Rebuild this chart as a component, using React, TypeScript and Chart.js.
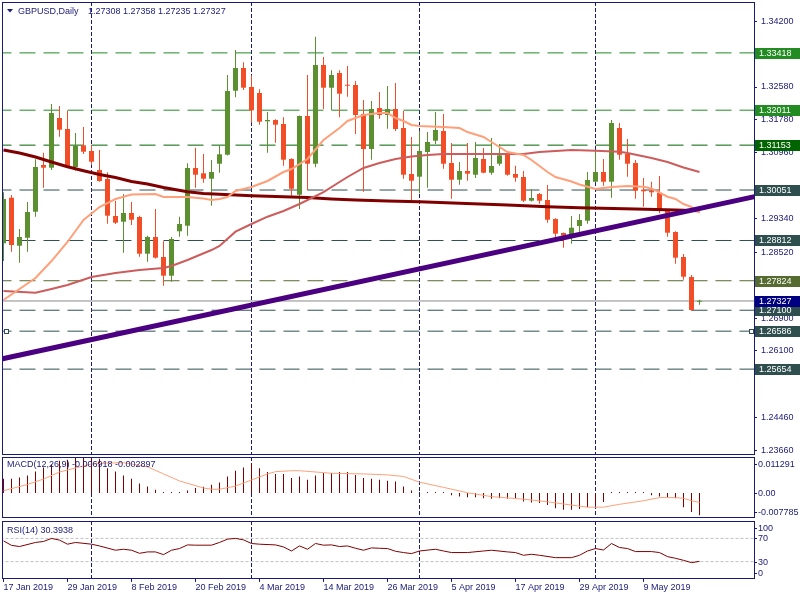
import React, { useEffect, useRef } from "react";
import { Chart, registerables } from "chart.js";

Chart.register(...registerables);

const FONT_FAMILY = "'Liberation Sans', Arial, sans-serif";
const NAVY = "#1a1a78";
const UP = "#5b8f2f";
const DOWN = "#f24d26";

const symbolTitle = "GBPUSD,Daily";
const ohlcTitle = "1.27308 1.27358 1.27235 1.27327";

const xTickIdx = [0, 8, 16, 24, 32, 40, 48, 56, 64, 72, 80];
const xTickLabels = [
  "17 Jan 2019", "29 Jan 2019", "8 Feb 2019", "20 Feb 2019", "4 Mar 2019", "14 Mar 2019",
  "26 Mar 2019", "5 Apr 2019", "17 Apr 2019", "29 Apr 2019", "9 May 2019",
];
const separatorIdx = [11, 31, 52, 74];

const opens = [
  1.28743, 1.29862, 1.28684, 1.2888, 1.29519, 1.30665, 1.30599, 1.31819, 1.31549, 1.30616,
  1.31149, 1.31009, 1.30543, 1.30322, 1.29413, 1.29273, 1.29487, 1.29389, 1.28488, 1.28898,
  1.28407, 1.27948, 1.29038, 1.29175, 1.30592, 1.30462, 1.30329, 1.30697, 1.30918, 1.32489,
  1.33047, 1.3258, 1.32433, 1.31738, 1.3177, 1.31672, 1.30813, 1.29936, 1.31868, 1.30697,
  1.3312, 1.32563, 1.32924, 1.32629, 1.32629, 1.31917, 1.31058, 1.32065, 1.31893, 1.3204,
  1.31574, 1.30444, 1.30378, 1.30984, 1.31262, 1.315, 1.30714, 1.30304, 1.30518, 1.30427,
  1.30813, 1.30476, 1.30697, 1.30935, 1.30444, 1.30371, 1.29789, 1.29953, 1.29806, 1.2934,
  1.28996, 1.2893, 1.29168, 1.29298, 1.30255, 1.30493, 1.30255, 1.31574, 1.30935, 1.30714,
  1.30059, 1.30034, 1.29985, 1.29561, 1.2902, 1.28407, 1.27916, 1.27308,
];
const highs = [
  1.29995, 1.29929, 1.29094, 1.29757, 1.30805, 1.30967, 1.32163, 1.32114, 1.31998, 1.31451,
  1.31598, 1.31156, 1.31034, 1.30486, 1.29781, 1.29953, 1.29757, 1.2942, 1.2893, 1.29585,
  1.28792, 1.289, 1.29396, 1.30707, 1.3109, 1.30935, 1.30788, 1.31139, 1.32875, 1.33489,
  1.33187, 1.32867, 1.32524, 1.31966, 1.31787, 1.31836, 1.3083, 1.3188, 1.32875, 1.33815,
  1.33317, 1.3299, 1.3299, 1.33096, 1.32727, 1.32261, 1.32236, 1.32457, 1.32605, 1.32678,
  1.31991, 1.31353, 1.315, 1.31475, 1.31966, 1.31917, 1.31205, 1.30739, 1.31205, 1.3123,
  1.31083, 1.31328, 1.31181, 1.3098, 1.30648, 1.30518, 1.30076, 1.29978, 1.30174, 1.2936,
  1.2901, 1.29413, 1.29462, 1.30493, 1.31009, 1.30813, 1.3177, 1.31696, 1.31304, 1.30788,
  1.30346, 1.30255, 1.30395, 1.2958, 1.2904, 1.2848, 1.27965, 1.27358,
];
const lows = [
  1.28308, 1.28537, 1.28267, 1.28537, 1.29396, 1.30108, 1.30543, 1.3136, 1.306, 1.30525,
  1.30935, 1.30665, 1.30255, 1.29224, 1.29217, 1.28512, 1.29192, 1.28414, 1.28291, 1.2837,
  1.27702, 1.278, 1.28905, 1.2893, 1.30108, 1.30231, 1.29666, 1.30476, 1.309, 1.32327,
  1.32507, 1.31704, 1.31655, 1.30967, 1.31213, 1.30648, 1.29912, 1.29585, 1.30044, 1.30609,
  1.3204, 1.32016, 1.31836, 1.32342, 1.31426, 1.3001, 1.30795, 1.31802, 1.31556, 1.315,
  1.30329, 1.29806, 1.29971, 1.30108, 1.31181, 1.30574, 1.29838, 1.30182, 1.3028, 1.30346,
  1.3046, 1.30427, 1.30648, 1.30403, 1.30255, 1.29757, 1.2977, 1.29715, 1.29249, 1.28856,
  1.28635, 1.28733, 1.29028, 1.29224, 1.3024, 1.30157, 1.29862, 1.30795, 1.30378, 1.29838,
  1.29642, 1.29887, 1.2948, 1.28905, 1.28242, 1.27849, 1.27088, 1.27235,
];
const closes = [
  1.29831, 1.28701, 1.28898, 1.29511, 1.30616, 1.30599, 1.31942, 1.31532, 1.3063, 1.31139,
  1.30992, 1.30746, 1.30272, 1.29421, 1.29249, 1.29487, 1.29322, 1.28488, 1.28898, 1.2839,
  1.27948, 1.28849, 1.29217, 1.30592, 1.30427, 1.30329, 1.30493, 1.30928, 1.32482, 1.33047,
  1.32563, 1.32008, 1.31728, 1.3177, 1.31655, 1.30795, 1.30083, 1.31868, 1.30697, 1.3312,
  1.32563, 1.32875, 1.32416, 1.32612, 1.31893, 1.31058, 1.3204, 1.31893, 1.3204, 1.31549,
  1.30427, 1.3028, 1.31009, 1.3123, 1.31525, 1.30697, 1.30304, 1.30518, 1.30452, 1.30837,
  1.30476, 1.30641, 1.30903, 1.30427, 1.30354, 1.29789, 1.29855, 1.29789, 1.29322, 1.28979,
  1.2893, 1.29126, 1.29315, 1.30297, 1.30493, 1.30255, 1.31696, 1.30918, 1.30697, 1.30034,
  1.3002, 1.29995, 1.29543, 1.29003, 1.2839, 1.27923, 1.27106, 1.27327,
];

// moving averages: [bar index, price]
const maFastPts = [
  [0, 1.27351], [4, 1.27891], [6, 1.28308], [8, 1.28775], [10, 1.29315], [12, 1.29634], [14, 1.29831],
  [16, 1.29941], [19, 1.29953], [20, 1.2988], [23, 1.2988], [25, 1.29843], [26, 1.29806], [27, 1.29831],
  [28, 1.2988], [29, 1.30027], [31, 1.30125], [33, 1.30273], [35, 1.30493], [36, 1.30567], [38, 1.30813],
  [40, 1.31279], [42, 1.31574], [43, 1.31746], [45, 1.31893], [47, 1.31942], [48, 1.31942], [49, 1.31819],
  [50, 1.31746], [51, 1.31647], [52, 1.31623], [55, 1.31598], [57, 1.31574], [58, 1.31475], [60, 1.31353],
  [61, 1.3123], [63, 1.30984], [65, 1.30911], [66, 1.30788], [68, 1.30493], [69, 1.30371], [71, 1.3026],
  [72, 1.30187], [74, 1.30076], [75, 1.30101], [76, 1.30125], [78, 1.3015], [80, 1.30133], [81, 1.30089],
  [83, 1.29887], [84, 1.29831], [85, 1.29708], [86, 1.29634], [87, 1.29494],
];
const maMidPts = [
  [0, 1.27572], [4, 1.2753], [6, 1.27621], [8, 1.27719], [11, 1.27916], [14, 1.28014], [17, 1.28088],
  [20, 1.28137], [21, 1.28186], [23, 1.28333], [26, 1.28578], [27, 1.28677], [29, 1.29028], [31, 1.29217],
  [33, 1.29396], [35, 1.29536], [37, 1.29708], [40, 1.30002], [42, 1.30248], [43, 1.30371], [45, 1.30592],
  [47, 1.30715], [49, 1.30813], [51, 1.30874], [53, 1.30911], [55, 1.30935], [61, 1.30935], [65, 1.30935],
  [67, 1.30984], [71, 1.31033], [74, 1.31016], [77, 1.30992], [78, 1.3096], [81, 1.30837], [83, 1.30739],
  [85, 1.30604], [87, 1.30493],
];
const maSlowPts = [
  [0, 1.31034], [2, 1.3096], [4, 1.30862], [6, 1.30739], [8, 1.30623], [10, 1.30525], [12, 1.30432],
  [14, 1.30358], [16, 1.3026], [18, 1.30199], [20, 1.30113], [23, 1.3001], [25, 1.29966], [29, 1.29929],
  [31, 1.29912], [35, 1.29887], [38, 1.29867], [41, 1.29831], [44, 1.29806], [48, 1.29782], [52, 1.29764],
  [57, 1.29725], [63, 1.29683], [68, 1.29639], [72, 1.29617], [79, 1.29585], [84, 1.2956], [87, 1.29543],
];
const trendPts = [[-1, 1.25871], [94, 1.29895]];

const levelPrices = [1.33418, 1.32011, 1.31153, 1.30051, 1.28812, 1.27824, 1.271, 1.26586, 1.25654];
const levelColors = ["#228B22", "#228B22", "#006400", "#2F4F4F", "#2F4F4F", "#556B2F", "#2F4F4F", "#2F4F4F", "#2F4F4F"];
const bidPrice = 1.27327;
const selectedLevel = 1.26586;

const priceTicks = [1.342, 1.3258, 1.3178, 1.3096, 1.2934, 1.2852, 1.2772, 1.269, 1.261, 1.2446, 1.2366];
const priceMin = 1.23546;
const priceMax = 1.34667;

const macdMain = [
  0.00447, 0.00447, 0.00488, 0.0055, 0.00676, 0.008, 0.00885, 0.0101, 0.0104, 0.01094,
  0.01129, 0.0112, 0.01073, 0.0078, 0.00676, 0.0055, 0.00447, 0.003, 0.00206, 0.00103,
  0.0001, 0.0003, 0.0003, 0.0008, 0.00156, 0.00197, 0.0026, 0.0033, 0.0052, 0.007,
  0.008, 0.0094, 0.0078, 0.0066, 0.006, 0.006, 0.0047, 0.0052, 0.0042, 0.0055,
  0.0063, 0.0063, 0.0066, 0.0066, 0.0057, 0.0047, 0.0045, 0.0042, 0.0039, 0.0036,
  0.0021, 0.0008, 0.0002, 0.0002, 0.0002, 0.0001, -0.0007, -0.0011, -0.0013, -0.0013,
  -0.0016, -0.0018, -0.0016, -0.0018, -0.0018, -0.0026, -0.0029, -0.0031, -0.0037, -0.0047,
  -0.0052, -0.0052, -0.005, -0.0044, -0.0037, -0.0028, 0.0002, 0.0002, 0.0002, 0.0001,
  0.0001, -0.0007, -0.0011, -0.0013, -0.0016, -0.0044, -0.0059, -0.006918,
];
const macdSignalPts = [
  [0, 0.00075], [3, 0.0027], [5, 0.0044], [7, 0.0066], [10, 0.0085], [11, 0.0091], [13, 0.0094],
  [15, 0.0095], [16, 0.0091], [18, 0.0082], [20, 0.006], [22, 0.0038], [25, 0.0016], [26, 0.0012],
  [27, 0.0012], [29, 0.0022], [31, 0.0041], [33, 0.006], [34, 0.0067], [36, 0.007], [37, 0.007],
  [40, 0.0064], [41, 0.0062], [45, 0.006], [48, 0.0057], [50, 0.0052], [52, 0.0034], [55, 0.0018],
  [58, 0.0001], [61, -0.0011], [65, -0.0019], [68, -0.0027], [70, -0.0034], [73, -0.0044], [75, -0.0044],
  [77, -0.0035], [80, -0.0024], [82, -0.0014], [84, -0.0014], [85, -0.0016], [86, -0.0024], [87, -0.002897],
];
const macdMax = 0.011291;
const macdMin = -0.007785;
const macdAxisValues = [0.011291, 0, -0.007785];
const macdAxisLabels = ["0.011291", "0.00", "-0.007785"];
const macdTitle = "MACD(12,26,9) -0.006918 -0.002897";

const rsiPts = [
  [0, 65.7], [1, 58], [2, 56], [4, 63], [5, 64.7], [6, 70], [7, 67], [8, 60], [9, 63], [11, 60], [12, 57],
  [14, 49.6], [15, 51.3], [16, 49.6], [17, 44.3], [18, 46.7], [19, 46.7], [20, 42], [21, 49.6], [22, 52.5],
  [23, 58.8], [24, 58.3], [26, 58.3], [27, 63], [28, 68.7], [29, 70], [30, 67.5], [31, 61.2], [32, 60],
  [34, 58.8], [35, 55.3], [36, 48.3], [37, 57], [38, 51.3], [39, 61.2], [40, 58.3], [41, 58.8], [42, 56],
  [43, 57], [44, 53], [45, 49.6], [46, 53.6], [47, 53], [48, 52.5], [49, 47.8], [50, 45.6], [51, 43.8],
  [52, 48.3], [54, 51.3], [55, 48.3], [56, 45.6], [58, 45.6], [60, 48.3], [61, 49.6], [63, 46.7], [64, 45.6],
  [65, 40.9], [66, 42.6], [67, 40.9], [69, 36.8], [71, 36.8], [72, 40.9], [73, 48.3], [74, 52.5], [75, 50],
  [76, 61.2], [77, 54.3], [78, 52.5], [79, 47.3], [81, 47.3], [82, 45.6], [83, 38.6], [84, 35.7], [85, 32.2],
  [86, 28.2], [87, 30.3938],
];
const rsiLevels = [70, 30];
const rsiAxisValues = [100, 70, 30, 0];
const rsiAxisLabels = ["100", "70", "30", "0"];
const rsiTitle = "RSI(14) 30.3938";

const X_MIN = -0.1875;
const X_MAX = 93.8125;
const AXIS_W = 46;

const fnt = (s = 9) => `${s}px ${FONT_FAMILY}`;
const pts = (arr: number[][]) => arr.map(([x, y]) => ({ x, y }));

const hiddenX = { type: "linear", display: false, min: X_MIN, max: X_MAX, offset: false, grid: { offset: false } };

const fitRight = (s: any) => {
  s.width = AXIS_W;
  s.paddingTop = 0;
  s.paddingBottom = 0;
  s.paddingLeft = 0;
  s.paddingRight = 0;
};

function panelPlugin(id: string, extra?: (chart: any) => void) {
  return {
    id,
    beforeDatasetsDraw(chart: any) {
      const { ctx, chartArea: a, scales } = chart;
      ctx.save();
      ctx.beginPath();
      ctx.rect(a.left, a.top, a.right - a.left, a.bottom - a.top);
      ctx.clip();
      ctx.strokeStyle = NAVY;
      ctx.lineWidth = 1;
      ctx.setLineDash([4, 2]);
      separatorIdx.forEach((i) => {
        const px = Math.floor(scales.x.getPixelForValue(i)) + 0.5;
        ctx.beginPath();
        ctx.moveTo(px, a.top);
        ctx.lineTo(px, a.bottom);
        ctx.stroke();
      });
      ctx.restore();
    },
    afterDraw(chart: any) {
      const { ctx, chartArea: a } = chart;
      ctx.save();
      ctx.strokeStyle = NAVY;
      ctx.lineWidth = 1;
      ctx.strokeRect(a.left + 0.5, a.top + 0.5, a.right - a.left, a.bottom - a.top - 1);
      ctx.restore();
      if (extra) extra(chart);
    },
  };
}

function sideLabels(values: number[], labels: string[]) {
  return (chart: any) => {
    const { ctx, chartArea: a, scales } = chart;
    ctx.save();
    ctx.font = fnt();
    ctx.fillStyle = NAVY;
    ctx.strokeStyle = NAVY;
    ctx.lineWidth = 1;
    ctx.textBaseline = "middle";
    ctx.textAlign = "left";
    values.forEach((v, k) => {
      let py = scales.y.getPixelForValue(v);
      py = Math.round(Math.min(Math.max(py, a.top + 7), a.bottom - 6));
      ctx.beginPath();
      ctx.moveTo(a.right, py + 0.5);
      ctx.lineTo(a.right + 3, py + 0.5);
      ctx.stroke();
      ctx.fillText(labels[k], a.right + 4, py + 0.5);
    });
    ctx.restore();
  };
}

function mainConfig(): any {
  const colors = closes.map((c, i) => (c >= opens[i] ? UP : DOWN));
  const datasets: any[] = [
    { type: "line", data: pts(trendPts), borderColor: "#4B0082", borderWidth: 5, pointRadius: 0, order: 0, clip: 0 },
    { type: "line", data: pts(maFastPts), borderColor: "#FFA07A", borderWidth: 2, pointRadius: 0, order: 1, clip: 0 },
    { type: "line", data: pts(maMidPts), borderColor: "#CD5C5C", borderWidth: 2, pointRadius: 0, order: 2, clip: 0 },
    { type: "line", data: pts(maSlowPts), borderColor: "#800000", borderWidth: 3, pointRadius: 0, order: 3, clip: 0 },
    {
      type: "bar",
      data: opens.map((o, i) => ({ x: i, y: [o, closes[i]] })),
      backgroundColor: colors,
      barThickness: 5,
      minBarLength: 1,
      grouped: false,
      inflateAmount: 0,
      borderWidth: 0,
      order: 4,
      clip: 0,
    },
    {
      type: "bar",
      data: lows.map((l, i) => ({ x: i, y: [l, highs[i]] })),
      backgroundColor: colors,
      barThickness: 1,
      grouped: false,
      inflateAmount: 0,
      borderWidth: 0,
      order: 5,
      clip: 0,
    },
    {
      type: "line",
      data: [{ x: -1, y: bidPrice }, { x: 95, y: bidPrice }],
      borderColor: "#8a8a8a",
      borderWidth: 1,
      pointRadius: 0,
      order: 6,
      clip: 0,
    },
  ];
  levelPrices.forEach((p, k) => {
    datasets.push({
      type: "line",
      data: [{ x: -1, y: p }, { x: 95, y: p }],
      borderColor: levelColors[k],
      borderWidth: 1,
      borderDash: [16, 8],
      pointRadius: 0,
      order: 7 + k,
      clip: 0,
    });
  });

  const extra = (chart: any) => {
    const { ctx, chartArea: a, scales } = chart;
    const y = scales.y;
    ctx.save();
    ctx.font = fnt();
    ctx.textBaseline = "middle";
    ctx.textAlign = "left";
    const box = (p: number, color: string) => {
      const py = Math.round(y.getPixelForValue(p));
      ctx.fillStyle = color;
      ctx.fillRect(a.right + 1, py - 5, 800 - a.right, 11);
      ctx.fillStyle = "#ffffff";
      ctx.fillText(p.toFixed(5), a.right + 5, py + 0.5);
    };
    levelPrices.forEach((p, k) => box(p, levelColors[k]));
    box(bidPrice, "#000080");

    // selection handles of the selected horizontal line
    const sy = Math.round(y.getPixelForValue(selectedLevel));
    ctx.fillStyle = "#ffffff";
    ctx.strokeStyle = "#2F4F4F";
    ctx.lineWidth = 1;
    [a.left + 2, a.right - 5].forEach((sx) => {
      ctx.fillRect(sx, sy - 2, 4, 4);
      ctx.strokeRect(sx + 0.5, sy - 1.5, 4, 4);
    });

    // title
    ctx.fillStyle = NAVY;
    ctx.beginPath();
    ctx.moveTo(7, 9);
    ctx.lineTo(13, 9);
    ctx.lineTo(10, 12.5);
    ctx.closePath();
    ctx.fill();
    ctx.fillText(symbolTitle, 18, 11.5);
    ctx.fillText(ohlcTitle, 88, 11.5);
    ctx.restore();
  };

  return {
    type: "bar",
    data: { datasets },
    options: {
      responsive: false,
      animation: false,
      devicePixelRatio: 1,
      layout: { padding: { left: 2, top: 2, right: 0, bottom: 1 } },
      plugins: { legend: { display: false }, tooltip: { enabled: false } },
      scales: {
        x: hiddenX,
        y: {
          type: "linear",
          position: "right",
          min: priceMin,
          max: priceMax,
          afterFit: fitRight,
          afterBuildTicks: (s: any) => {
            s.ticks = priceTicks.map((v) => ({ value: v }));
          },
          ticks: {
            autoSkip: false,
            padding: 4,
            color: NAVY,
            font: { family: FONT_FAMILY, size: 9 },
            callback: (v: any) => Number(v).toFixed(5),
          },
          grid: { display: true, drawOnChartArea: false, drawTicks: true, tickLength: 3, color: NAVY },
          border: { display: false },
        },
      },
    },
    plugins: [panelPlugin("mainPanel", extra)],
  };
}

function macdConfig(): any {
  const extra = (chart: any) => {
    sideLabels(macdAxisValues, macdAxisLabels)(chart);
    const { ctx } = chart;
    ctx.save();
    ctx.font = fnt();
    ctx.fillStyle = NAVY;
    ctx.textBaseline = "middle";
    ctx.fillText(macdTitle, 7, 9);
    ctx.restore();
  };
  return {
    type: "bar",
    data: {
      datasets: [
        { type: "line", data: pts(macdSignalPts), borderColor: "#FFA07A", borderWidth: 1, pointRadius: 0, order: 0, clip: 0 },
        {
          type: "bar",
          data: macdMain.map((v, i) => ({ x: i, y: v })),
          backgroundColor: "#800000",
          barThickness: 1,
          minBarLength: 1,
          grouped: false,
          inflateAmount: 0,
          borderWidth: 0,
          order: 1,
          clip: 0,
        },
      ],
    },
    options: {
      responsive: false,
      animation: false,
      devicePixelRatio: 1,
      layout: { padding: { left: 2, top: 1, right: 0, bottom: 1 } },
      plugins: { legend: { display: false }, tooltip: { enabled: false } },
      scales: {
        x: hiddenX,
        y: {
          type: "linear",
          position: "right",
          min: macdMin,
          max: macdMax,
          afterFit: fitRight,
          ticks: { display: false },
          grid: { display: false },
          border: { display: false },
        },
      },
    },
    plugins: [panelPlugin("macdPanel", extra)],
  };
}

function rsiConfig(): any {
  const extra = (chart: any) => {
    sideLabels(rsiAxisValues, rsiAxisLabels)(chart);
    const { ctx } = chart;
    ctx.save();
    ctx.font = fnt();
    ctx.fillStyle = NAVY;
    ctx.textBaseline = "middle";
    ctx.fillText(rsiTitle, 7, 12);
    ctx.restore();
  };
  const datasets: any[] = [
    { type: "line", data: pts(rsiPts), borderColor: "#800000", borderWidth: 1, pointRadius: 0, order: 0, clip: 0 },
  ];
  rsiLevels.forEach((v, k) => {
    datasets.push({
      type: "line",
      data: [{ x: -1, y: v }, { x: 95, y: v }],
      borderColor: "#c0c0c0",
      borderWidth: 1,
      borderDash: [3, 2],
      pointRadius: 0,
      order: 1 + k,
      clip: 0,
    });
  });
  return {
    type: "line",
    data: { datasets },
    options: {
      responsive: false,
      animation: false,
      devicePixelRatio: 1,
      layout: { padding: { left: 2, top: 2, right: 0, bottom: 0 } },
      plugins: { legend: { display: false }, tooltip: { enabled: false } },
      scales: {
        x: {
          type: "linear",
          position: "bottom",
          min: X_MIN,
          max: X_MAX,
          offset: false,
          afterFit: (s: any) => {
            s.height = 21;
            s.paddingLeft = 0;
            s.paddingRight = 0;
            s.paddingTop = 0;
            s.paddingBottom = 0;
          },
          afterBuildTicks: (s: any) => {
            s.ticks = xTickIdx.map((v) => ({ value: v }));
          },
          ticks: {
            autoSkip: false,
            maxRotation: 0,
            minRotation: 0,
            align: "start",
            padding: 0,
            color: NAVY,
            font: { family: FONT_FAMILY, size: 9 },
            callback: (v: any) => {
              const k = xTickIdx.indexOf(Number(v));
              return k >= 0 ? xTickLabels[k] : "";
            },
          },
          grid: { display: true, drawOnChartArea: false, drawTicks: true, tickLength: 3, color: NAVY, offset: false },
          border: { display: false },
        },
        y: {
          type: "linear",
          position: "right",
          min: 0,
          max: 100,
          afterFit: fitRight,
          ticks: { display: false },
          grid: { display: false },
          border: { display: false },
        },
      },
    },
    plugins: [panelPlugin("rsiPanel", extra)],
  };
}

export default function App() {
  const mainRef = useRef<HTMLCanvasElement>(null);
  const macdRef = useRef<HTMLCanvasElement>(null);
  const rsiRef = useRef<HTMLCanvasElement>(null);

  useEffect(() => {
    const charts = [
      new Chart(mainRef.current as HTMLCanvasElement, mainConfig()),
      new Chart(macdRef.current as HTMLCanvasElement, macdConfig()),
      new Chart(rsiRef.current as HTMLCanvasElement, rsiConfig()),
    ];
    return () => charts.forEach((c) => c.destroy());
  }, []);

  return (
    <div style={{ position: "absolute", left: 0, top: 0, width: 800, height: 600, background: "#ffffff", overflow: "hidden" }}>
      <canvas ref={mainRef} width={800} height={456} style={{ position: "absolute", left: 0, top: 0, display: "block" }} />
      <canvas ref={macdRef} width={800} height={63} style={{ position: "absolute", left: 0, top: 456, display: "block" }} />
      <canvas ref={rsiRef} width={800} height={81} style={{ position: "absolute", left: 0, top: 519, display: "block" }} />
    </div>
  );
}
